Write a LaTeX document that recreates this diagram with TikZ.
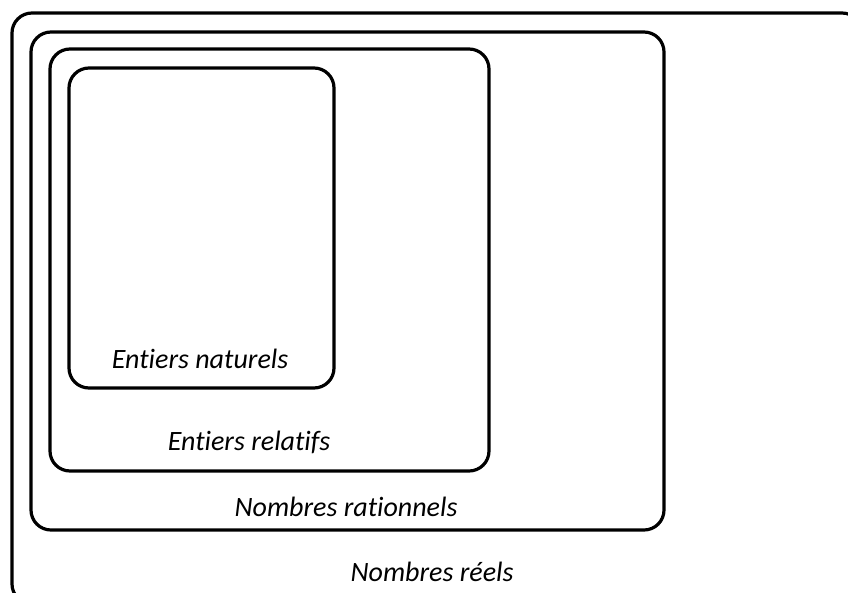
\documentclass[tikz,border=0pt]{standalone}
\usepackage{fontspec}
\setmainfont{Carlito}[Ligatures={NoCommon,NoRare}]
\usetikzlibrary{positioning}
\tikzset{
  ensemble/.style={draw,line width=3.2pt,rounded corners=20pt},
  etiquette/.style={font=\fontsize{28}{32}\selectfont\itshape,inner sep=0pt}
}
\begin{document}
\begin{tikzpicture}[x=1pt,y=-1pt]
        \useasboundingbox (0,0) rectangle (848,592);
        \clip (0,0) rectangle (848,592);
        \draw[ensemble] (12,13) rectangle (862,604);
        \draw[ensemble] (31,32) rectangle (664,530);
        \draw[ensemble] (50,49) rectangle (489,471);
        \draw[ensemble] (69,68) rectangle (334,388);
        \node[etiquette] (naturels) at (200,359) {Entiers naturels};
        \node[etiquette] (relatifs) at (249,442) {Entiers relatifs};
        \node[etiquette] (rationnels) at (346,507) {Nombres rationnels};
        \node[etiquette] (reels) at (432,572) {Nombres réels};
      \end{tikzpicture}
\end{document}
